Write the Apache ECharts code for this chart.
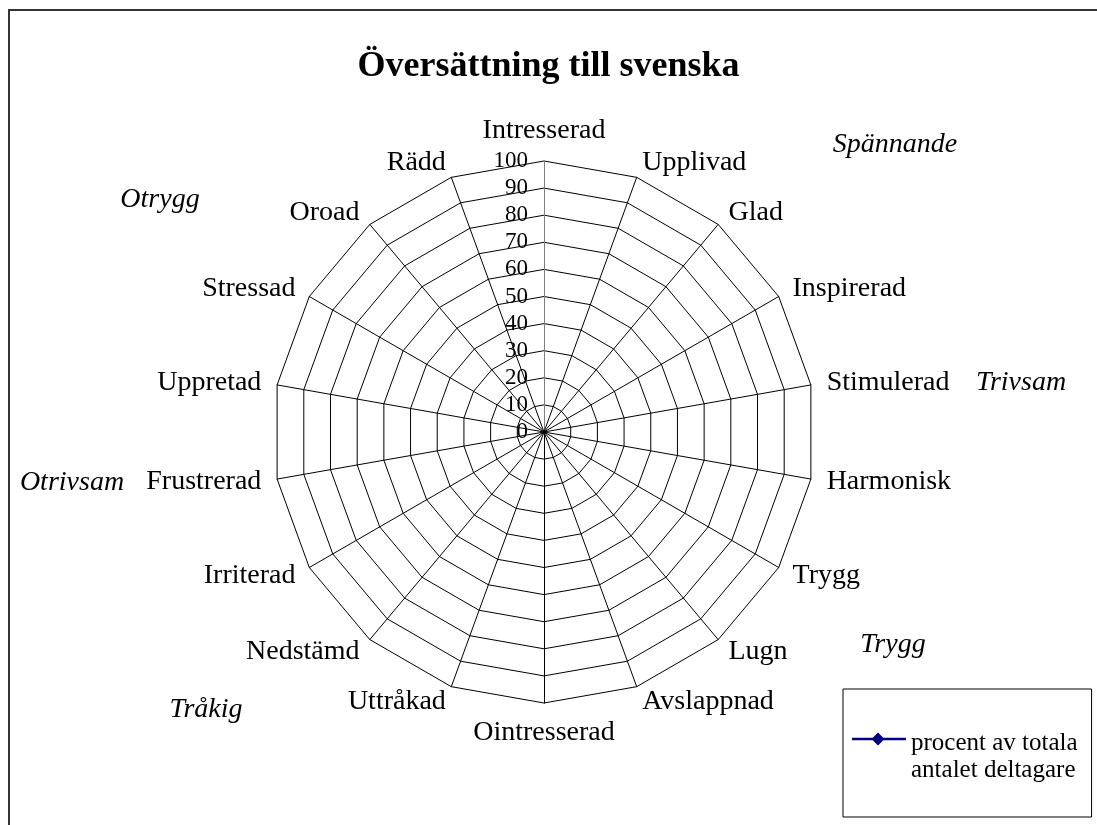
<!DOCTYPE html>
<html>
<head>
<meta charset="utf-8">
<script src="https://cdn.jsdelivr.net/npm/echarts@6/dist/echarts.min.js"></script>
<style>
  html, body { margin: 0; padding: 0; background: #fff; }
  #chart { width: 1097px; height: 825px; }
</style>
</head>
<body>
<div id="chart"></div>
<script>
// indikatorer, moturs från toppen (ECharts ritar radar moturs)
const categories = ['Intresserad', 'Rädd', 'Oroad', 'Stressad', 'Uppretad', 'Frustrerad',
  'Irriterad', 'Nedstämd', 'Uttråkad', 'Ointresserad', 'Avslappnad', 'Lugn',
  'Trygg', 'Harmonisk', 'Stimulerad', 'Inspirerad', 'Glad', 'Upplivad']
const seriesName = 'procent av totala\nantalet deltagare'
// inga värden syns i diagrammet
const values = []
const groupLabels = ['Spännande', 'Trivsam', 'Trygg', 'Tråkig', 'Otrivsam', 'Otrygg']

const serif = '"Liberation Serif", "Times New Roman", serif'

const chart = echarts.init(document.getElementById('chart'))

// placering av de kursiva grupprubrikerna
const groupPos = [[895, 145], [1021, 383], [893, 645], [206, 710], [72, 483], [160, 200]]

const option = {
  backgroundColor: '#fff',
  title: {
    text: 'Översättning till svenska',
    left: 'center',
    top: 44,
    textStyle: { fontFamily: serif, fontSize: 36, fontWeight: 'bold', color: '#000' }
  },
  legend: {
    left: 843,
    top: 689,
    orient: 'vertical',
    padding: [41, 14, 33, 9],
    borderColor: '#000',
    borderWidth: 1,
    itemWidth: 54,
    itemHeight: 54,
    icon: 'path://M0,0 L0.01,0 Z M0,54 L0.01,54 Z M0,7.8 L54,7.8 L54,10.2 L0,10.2 Z M26,2.5 L32.5,9 L26,15.5 L19.5,9 Z',
    itemStyle: { color: '#000080', borderWidth: 0 },
    textStyle: { fontFamily: serif, fontSize: 25, lineHeight: 27, color: '#000' },
    data: [seriesName]
  },
  radar: {
    center: [544, 432],
    radius: 271,
    startAngle: 90,
    shape: 'polygon',
    splitNumber: 10,
    nameGap: 16,
    axisName: { color: '#000', fontFamily: serif, fontSize: 28 },
    axisLine: { lineStyle: { color: '#000', width: 1 } },
    splitLine: { lineStyle: { color: '#000', width: 1 } },
    splitArea: { show: false },
    axisTick: { show: false },
    axisLabel: { show: false },
    indicator: categories.map((name, i) => {
      const ind = { name: name, min: 0, max: 100 }
      if (i === 0) {
        ind.axisLabel = { show: true, color: '#000', fontFamily: serif, fontSize: 23, margin: 16 }
        ind.axisLine = { lineStyle: { color: '#808080' } }
      }
      return ind
    })
  },
  graphic: [
    {
      type: 'rect',
      shape: { x: 9, y: 10, width: 1200, height: 900 },
      style: { fill: 'none', stroke: '#333', lineWidth: 2 },
      silent: true
    }
  ].concat(groupLabels.map((t, i) => ({
    type: 'text',
    x: groupPos[i][0],
    y: groupPos[i][1],
    style: {
      text: t,
      fill: '#000',
      font: 'italic 28px ' + serif,
      align: 'center',
      verticalAlign: 'middle'
    }
  }))),
  series: [
    {
      type: 'radar',
      symbol: 'none',
      itemStyle: { color: '#000080' },
      lineStyle: { color: '#000080', width: 2 },
      data: [{ name: seriesName, value: values }]
    }
  ]
}

chart.setOption(option)
</script>
</body>
</html>
